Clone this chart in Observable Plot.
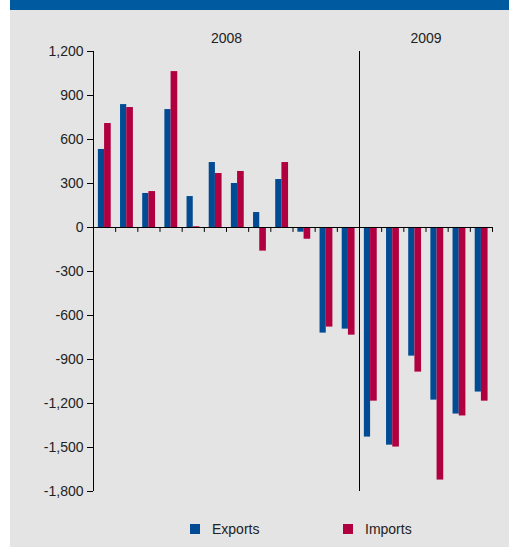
<!DOCTYPE html>
<html>
<head>
<meta charset="utf-8">
<script src="https://cdn.jsdelivr.net/npm/d3@7"></script>
<script src="https://cdn.jsdelivr.net/npm/@observablehq/plot@0.6"></script>
<style>
  html, body { margin: 0; padding: 0; background: #ffffff; }
  body { width: 509px; height: 547px; position: relative; overflow: hidden; font-family: "Liberation Sans", Arial, sans-serif; }
  #panel { position: absolute; left: 10px; top: 0; width: 499px; height: 547px; background: #e4e4e4; }
  #banner { position: absolute; left: 10px; top: 0; width: 499px; height: 10px; background: #005aa0; overflow: hidden; }
  #banner span { position: absolute; left: 14px; top: -17px; font: bold 17px/17px "Liberation Sans", Arial, sans-serif; color: #fff; white-space: nowrap; }
  #chart { position: absolute; left: 0; top: 10px; }
  .legend-item { position: absolute; top: 520px; height: 18px; display: flex; align-items: center; font-size: 14px; color: #222; }
  .legend-item i { display: inline-block; width: 10px; height: 10px; margin-right: 12px; }
</style>
</head>
<body>
<div id="panel"></div>
<div id="banner"><span>Exports and imports (USD million)</span></div>
<div id="chart"></div>
<script>
// Data (monthly change, Jan 2008 – Jun 2009)
const months = ["Jan 08","Feb 08","Mar 08","Apr 08","May 08","Jun 08","Jul 08","Aug 08","Sep 08","Oct 08","Nov 08","Dec 08",
                "Jan 09","Feb 09","Mar 09","Apr 09","May 09","Jun 09"];
const exportsVals = [532, 838, 232, 804, 211, 443, 300, 102, 327, -32, -720, -693, -1429, -1484, -877, -1177, -1272, -1122];
const importsVals = [709, 818, 245, 1063, 5, 368, 382, -161, 443, -80, -679, -734, -1184, -1497, -986, -1722, -1285, -1184];
const years = ["2008", "2009"];
const yearStart = [0, 12];
const yearEnd = [12, 18];
const yTicks = [1200, 900, 600, 300, 0, -300, -600, -900, -1200, -1500, -1800];
const seriesNames = ["Exports", "Imports"];
const seriesColors = ["#004b93", "#b00040"];

const idx = d3.range(months.length);
const tickShape = { draw(ctx, l) { ctx.moveTo(0, 0); ctx.lineTo(0, -l); } };
const fmt = d => d.toLocaleString("en-US");

const chart = Plot.plot({
  width: 509,
  height: 500,
  marginLeft: 93,
  marginRight: 17,
  marginTop: 41,
  marginBottom: 19,
  style: { background: "transparent", fontFamily: "'Liberation Sans', Arial, sans-serif", fontSize: "14px", color: "#222" },
  x: { domain: [0, months.length], axis: null },
  y: { domain: [yTicks[yTicks.length - 1], yTicks[0]], axis: null },
  marks: [
    Plot.rect(idx, { x1: i => i + 0.22, x2: i => i + 0.5, y1: 0, y2: i => exportsVals[i], fill: seriesColors[0] }),
    Plot.rect(idx, { x1: i => i + 0.5, x2: i => i + 0.8, y1: 0, y2: i => importsVals[i], fill: seriesColors[1] }),
    Plot.ruleY([0], { x1: 0, x2: months.length, stroke: "#000", strokeWidth: 1 }),
    Plot.vector(d3.range(1, months.length + 1), { x: d => d, y: 0, length: 4, rotate: 180, anchor: "start", shape: tickShape, stroke: "#000", strokeWidth: 1 }),
    Plot.ruleX([0], { y1: yTicks[yTicks.length - 1], y2: yTicks[0], stroke: "#000", strokeWidth: 1 }),
    Plot.ruleX([yearStart[1]], { y1: yTicks[yTicks.length - 1], y2: yTicks[0], stroke: "#000", strokeWidth: 1 }),
    Plot.axisY({ ticks: yTicks, tickSize: 6, tickPadding: 4, tickFormat: fmt, fontSize: 14, label: null, stroke: "#000" }),
    Plot.text(years, { x: (d, i) => (yearStart[i] + yearEnd[i]) / 2, frameAnchor: "top", lineAnchor: "middle", dy: -13, text: d => d, fontSize: 14, fill: "#222" })
  ]
});
document.getElementById("chart").appendChild(chart);

// Legend
const legendLeft = [190, 343];
seriesNames.forEach((name, i) => {
  const item = document.createElement("div");
  item.className = "legend-item";
  item.style.left = legendLeft[i] + "px";
  item.innerHTML = `<i style="background:${seriesColors[i]}"></i><span>${name}</span>`;
  document.body.appendChild(item);
});
</script>
</body>
</html>
